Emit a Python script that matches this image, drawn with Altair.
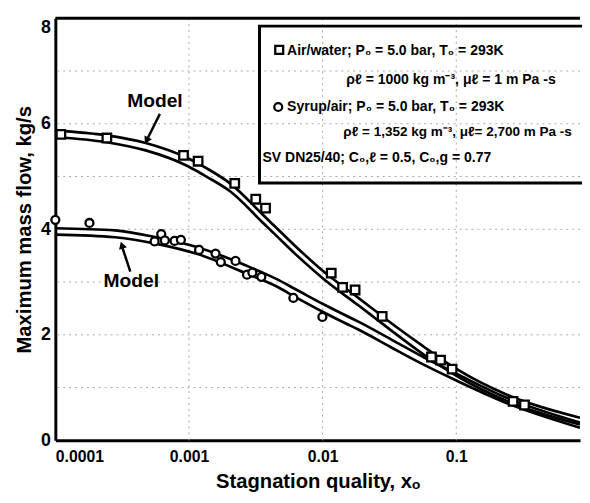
import altair as alt
import pandas as pd

# ---------------- data ----------------
# Air/water measurements (squares)
air_x = [1.10e-4, 2.43e-4, 9.1e-4, 1.17e-3, 2.2e-3, 3.16e-3, 3.74e-3, 0.0116, 0.0141,
         0.0175, 0.0279, 0.0652, 0.0763, 0.0931, 0.266, 0.324]
air_y = [5.80, 5.73, 5.40, 5.29, 4.87, 4.57, 4.40, 3.17, 2.90,
         2.85, 2.35, 1.58, 1.52, 1.35, 0.74, 0.67]
# Syrup/air measurements (circles)
syr_x = [1.0e-4, 1.80e-4, 5.53e-4, 6.2e-4, 6.6e-4, 7.8e-4, 8.7e-4, 1.19e-3, 1.58e-3,
         1.73e-3, 2.23e-3, 2.72e-3, 2.98e-3, 3.48e-3, 6.04e-3, 9.96e-3]
syr_y = [4.18, 4.12, 3.77, 3.91, 3.79, 3.78, 3.80, 3.61, 3.54,
         3.38, 3.40, 3.14, 3.18, 3.10, 2.70, 2.34]

# Model curves (each model drawn as a double line)
air_model_x = [1e-4, 2.42e-4, 4.67e-4, 9.75e-4, 1.37e-3, 2.03e-3, 3.59e-3, 4.5e-3, 6.32e-3,
               0.0105, 0.0185, 0.0246, 0.0327, 0.0575, 0.0763, 0.101, 0.237, 0.843]
air_model_upper = [5.87, 5.78, 5.64, 5.35, 5.15, 4.87, 4.27, 4.03, 3.67,
                   3.17, 2.70, 2.46, 2.22, 1.77, 1.55, 1.35, 0.87, 0.43]
air_model_lower = [5.75, 5.65, 5.50, 5.20, 4.99, 4.72, 4.12, 3.88, 3.52,
                   3.03, 2.56, 2.32, 2.08, 1.62, 1.41, 1.22, 0.75, 0.30]
syr_model_x = [1e-4, 2.8e-4, 5.86e-4, 1.16e-3, 2.7e-3, 4.5e-3, 6.32e-3, 0.0105, 0.0148,
               0.0185, 0.0327, 0.0575, 0.101, 0.237, 0.843]
syr_model_upper = [4.02, 3.98, 3.84, 3.66, 3.31, 3.06, 2.86, 2.56, 2.37,
                   2.25, 1.91, 1.57, 1.26, 0.81, 0.34]
syr_model_lower = [3.90, 3.85, 3.72, 3.53, 3.16, 2.92, 2.71, 2.41, 2.22,
                   2.10, 1.76, 1.43, 1.13, 0.71, 0.24]

x_ticks = [0.0001, 0.001, 0.01, 0.1]
x_tick_labels = ["0.0001", "0.001", "0.01", "0.1"]
y_ticks = [0, 2, 4, 6, 8]
grid_x = [0.001, 0.01, 0.1]
grid_y = [1, 2, 3, 4, 5, 6, 7]

legend_lines = [
    "Air/water; P\u2080 = 5.0 bar, T\u2080 = 293K",
    "\u03c1\u2113 = 1000 kg m\u207b\u00b3, \u03bc\u2113 = 1 m Pa -s",
    "Syrup/air; P\u2080 = 5.0 bar, T\u2080 = 293K",
    "\u03c1\u2113  = 1,352 kg m\u207b\u00b3, \u03bc\u2113= 2,700 m Pa -s",
    "SV DN25/40; C\u2080,\u2113 = 0.5, C\u2080,g = 0.77",
]

# ---------------- layout ----------------
W, H = 532, 428
XMAX = 0.8437
FONT = "Liberation Sans, Arial, Helvetica, sans-serif"

curves = pd.concat([
    pd.DataFrame({"x": air_model_x, "y": air_model_upper, "c": "air_u"}),
    pd.DataFrame({"x": air_model_x, "y": air_model_lower, "c": "air_l"}),
    pd.DataFrame({"x": syr_model_x, "y": syr_model_upper, "c": "syr_u"}),
    pd.DataFrame({"x": syr_model_x, "y": syr_model_lower, "c": "syr_l"}),
])
air_df = pd.DataFrame({"x": air_x, "y": air_y})
syr_df = pd.DataFrame({"x": syr_x, "y": syr_y})

label_expr = "[" + ",".join("'%s'" % s for s in x_tick_labels) + "][round(log(datum.value)/LN10)+4]"

xscale = alt.Scale(type="log", domain=[1e-4, XMAX], nice=False)
yscale = alt.Scale(domain=[0, 8], nice=False, zero=False)

xaxis = alt.Axis(values=x_ticks, labelExpr=label_expr, title="Stagnation quality, x\u2092",
                 labelFont=FONT, labelFontSize=16, labelFontWeight="bold", labelColor="black",
                 labelPadding=8, titleFont=FONT, titleFontSize=20.5, titleFontWeight="bold",
                 titleColor="black", titleY=48, titleBaseline="alphabetic",
                 ticks=False, grid=False, domainColor="black", domainWidth=3)
yaxis = alt.Axis(values=y_ticks, title="Maximum mass flow, kg/s", format="d",
                 labelFont=FONT, labelFontSize=18, labelFontWeight="bold", labelColor="black",
                 labelPadding=5,
                 labelBaseline={"condition": {"test": "datum.value == 8", "value": "top"}, "value": "middle"},
                 titleFont=FONT, titleFontSize=20.5, titleFontWeight="bold", titleColor="black",
                 titleAngle=270, titleX=-25, titleY=H / 2, titleAlign="center",
                 titleBaseline="alphabetic",
                 ticks=False, grid=False, domainColor="black", domainWidth=3)

base_curves = alt.Chart(curves).mark_line(
    interpolate="monotone", color="black", strokeWidth=2.7, clip=True
).encode(
    x=alt.X("x:Q", scale=xscale, axis=xaxis),
    y=alt.Y("y:Q", scale=yscale, axis=yaxis),
    detail="c:N",
)

gx = alt.Chart(pd.DataFrame({"gx": grid_x})).mark_rule(
    color="#a8a8a8", strokeWidth=1, strokeDash=[2, 4]
).encode(x=alt.X("gx:Q", scale=xscale))
gy = alt.Chart(pd.DataFrame({"gy": grid_y})).mark_rule(
    color="#a8a8a8", strokeWidth=1, strokeDash=[2, 4]
).encode(y=alt.Y("gy:Q", scale=yscale))

squares = alt.Chart(air_df).mark_point(
    shape="square", filled=True, fill="white", stroke="black", strokeWidth=2.3,
    size=75, opacity=1
).encode(x=alt.X("x:Q", scale=xscale), y=alt.Y("y:Q", scale=yscale))
circles = alt.Chart(syr_df).mark_point(
    shape="circle", filled=True, fill="white", stroke="black", strokeWidth=2.3,
    size=65, opacity=1
).encode(x=alt.X("x:Q", scale=xscale), y=alt.Y("y:Q", scale=yscale))

top_rule = alt.Chart(pd.DataFrame({"t": [8]})).mark_rule(
    color="black", strokeWidth=3
).encode(y=alt.Y("t:Q", scale=yscale))

# legend box (annotation)
box = alt.Chart(pd.DataFrame({"a": [0]})).mark_rect(
    fill=None, stroke="black", strokeWidth=3
).encode(x=alt.value(207), x2=alt.value(545), y=alt.value(8), y2=alt.value(167))

leg_sq = alt.Chart(pd.DataFrame({"a": [0]})).mark_point(
    shape="square", filled=True, fill="white", stroke="black", strokeWidth=2.3, size=65, opacity=1
).encode(x=alt.value(227), y=alt.value(32))
leg_ci = alt.Chart(pd.DataFrame({"a": [0]})).mark_point(
    shape="circle", filled=True, fill="white", stroke="black", strokeWidth=2.3, size=65, opacity=1
).encode(x=alt.value(226), y=alt.value(90))

leg_pos = [(235, 33), (295, 63), (235, 90), (292, 115), (210, 142)]
leg_sizes = [14.2, 14.2, 14.2, 13.7, 14.2]
leg_texts = []
for (px, py), fs, txt in zip(leg_pos, leg_sizes, legend_lines):
    leg_texts.append(
        alt.Chart(pd.DataFrame({"t": [txt]})).mark_text(
            align="left", baseline="middle", font=FONT, fontSize=fs, fontWeight="bold",
            color="black"
        ).encode(x=alt.value(px), y=alt.value(py), text="t:N")
    )

model_labels = alt.Chart(pd.DataFrame({"t": ["Model", "Model"],
                                       "px": [101, 77], "py": [84, 267]})).mark_text(
    align="center", baseline="middle", font=FONT, fontSize=19.5, fontWeight="bold", color="black"
).encode(x=alt.X("px:Q", scale=None), y=alt.Y("py:Q", scale=None), text="t:N")

arrow1 = alt.Chart(pd.DataFrame({"a": [0]})).mark_rule(color="black", strokeWidth=2.5).encode(
    x=alt.value(106), x2=alt.value(93), y=alt.value(97), y2=alt.value(123))
head1 = alt.Chart(pd.DataFrame({"a": [0]})).mark_point(
    shape="triangle-down", filled=True, color="black", size=70, angle=27, opacity=1
).encode(x=alt.value(92.5), y=alt.value(124))
arrow2 = alt.Chart(pd.DataFrame({"a": [0]})).mark_rule(color="black", strokeWidth=2.5).encode(
    x=alt.value(76), x2=alt.value(67.5), y=alt.value(257), y2=alt.value(231))
head2 = alt.Chart(pd.DataFrame({"a": [0]})).mark_point(
    shape="triangle-up", filled=True, color="black", size=70, angle=342, opacity=1
).encode(x=alt.value(67.5), y=alt.value(230))

chart = alt.layer(
    gx, gy, box, base_curves, squares, circles, top_rule,
    leg_sq, leg_ci, *leg_texts, model_labels, arrow1, head1, arrow2, head2,
).properties(
    width=W, height=H,
    autosize="none",
    padding={"left": 48, "top": 7, "right": 2, "bottom": 51},
    background="white",
).configure_view(stroke=None)

chart.save("out.html", embed_options={"renderer": "svg", "actions": False})
